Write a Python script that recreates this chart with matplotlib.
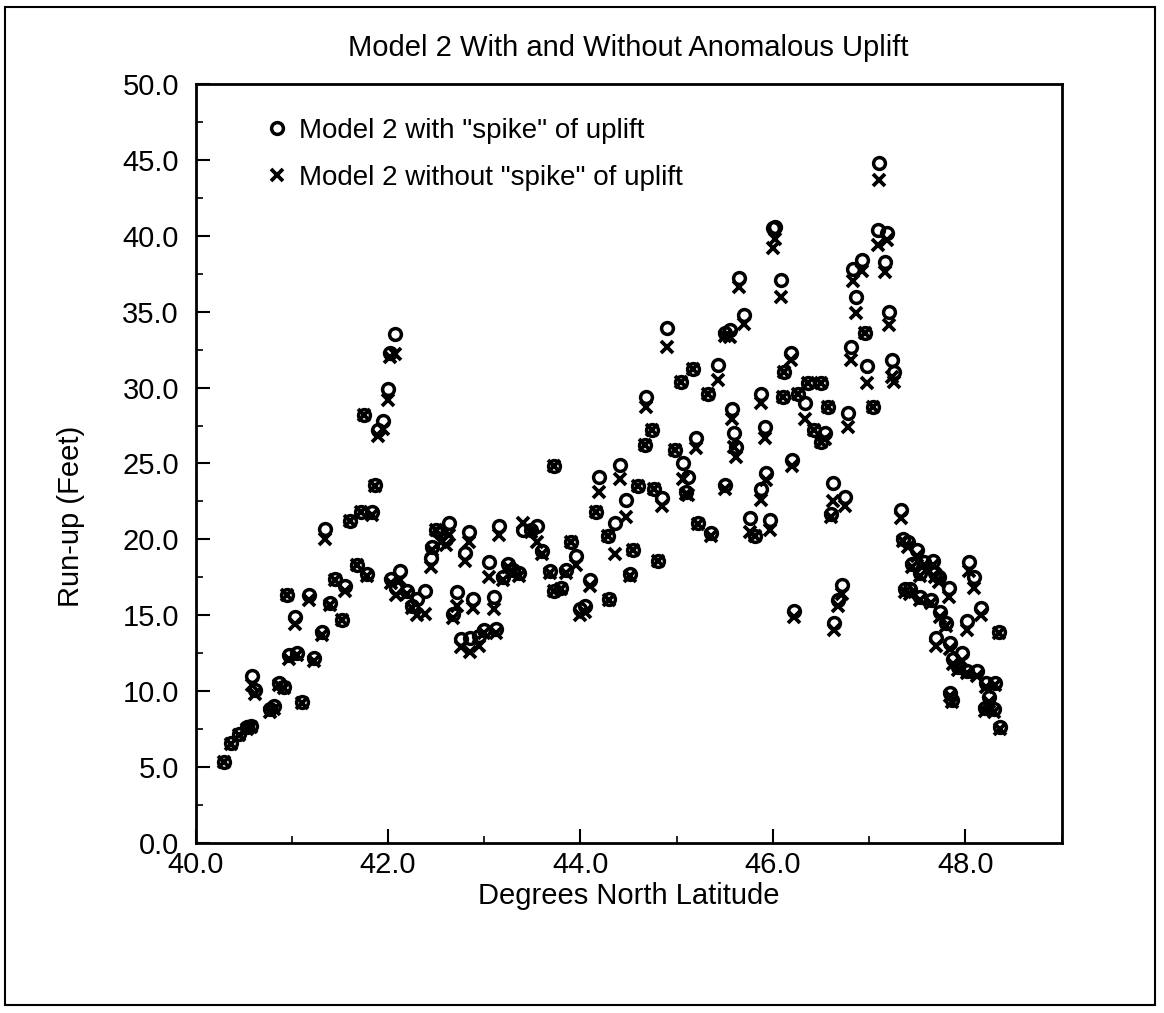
import matplotlib.pyplot as plt
from matplotlib.patches import Rectangle
from matplotlib.ticker import MultipleLocator, FormatStrFormatter

plt.rcParams['font.family'] = ['Liberation Sans', 'DejaVu Sans']

# latitude of each site, run-up with and without the "spike" of uplift
lat = [40.30, 40.37, 40.45, 40.53, 40.58, 40.59, 40.62, 40.77, 40.82, 40.87,
       40.92, 40.97, 41.03, 41.05, 41.11, 41.23, 41.31, 41.52, 40.95, 41.18,
       41.35, 41.45, 41.40, 41.55, 41.60, 41.68, 41.72, 41.75, 41.78, 41.83,
       41.87, 41.90, 41.95, 42.00, 42.02, 42.07, 42.03, 42.08, 42.12,
       42.20, 42.25, 42.30, 42.38, 42.45, 42.50, 42.46, 42.55, 42.63, 42.60,
       42.68, 42.72, 42.76, 42.80, 42.84, 42.85, 42.88, 42.95, 43.00, 43.05,
       43.10, 43.15, 43.12, 43.20, 43.25, 43.30, 43.36, 43.40, 43.49, 43.55,
       43.60, 43.68, 43.72, 43.73, 43.85, 43.90, 43.95, 43.80, 44.00, 44.05,
       44.10, 44.16, 44.19, 44.29, 44.30, 44.36, 44.41, 44.47, 44.52, 44.55,
       44.60, 44.67, 44.68, 44.74, 44.76, 44.81, 44.85,
       44.90, 44.98, 45.04, 45.07, 45.12, 45.10, 45.17, 45.20, 45.22, 45.33,
       45.36, 45.43, 45.50, 45.50, 45.55, 45.57, 45.60, 45.62, 45.65, 45.70,
       45.76, 45.81, 45.88, 45.88, 45.92, 45.93, 45.97, 46.00, 46.02, 46.08,
       46.10, 46.12, 46.19, 46.20, 46.22, 46.26, 46.33, 46.36, 46.43, 46.50,
       46.50, 46.54, 46.57, 46.60, 46.62, 46.64, 46.68, 46.72, 46.75, 46.78,
       46.81, 46.83, 46.86, 46.93, 46.96, 46.98, 47.04, 47.09, 47.10, 47.16,
       47.19, 47.21, 47.24, 47.26,
       47.33, 47.35, 47.40, 47.45, 47.50, 47.53, 47.57, 47.66, 47.68, 47.73,
       47.37, 47.43, 47.53, 47.64, 47.83, 48.04, 48.09, 47.74, 47.80, 48.16,
       48.02, 48.35, 47.69, 47.84, 47.97, 47.87, 47.92, 48.02, 48.12, 47.84,
       47.86, 48.21, 48.31, 48.25, 48.20, 48.30, 48.36]

with_spike = [5.3, 6.6, 7.2, 7.6, 7.7, 11.0, 10.1, 8.8, 9.0, 10.5,
              10.3, 12.4, 14.9, 12.5, 9.3, 12.2, 13.9, 14.7, 16.3, 16.3,
              20.7, 17.4, 15.8, 16.9, 21.2, 18.3, 21.8, 28.2, 17.7, 21.8,
              23.6, 27.2, 27.8, 29.9, 32.3, 33.5, 17.4, 16.8, 17.9,
              16.6, 15.6, 16.1, 16.6, 18.8, 20.6, 19.5, 20.4, 21.1, 20.0,
              15.1, 16.5, 13.4, 19.1, 20.5, 13.5, 16.1, 13.6, 14.0, 18.5,
              16.2, 20.9, 14.1, 17.5, 18.4, 18.0, 17.8, 20.6, 20.6, 20.9,
              19.2, 17.9, 24.8, 16.6, 18.0, 19.8, 18.9, 16.8, 15.4, 15.6,
              17.3, 21.8, 24.1, 20.2, 16.1, 21.1, 24.9, 22.6, 17.7, 19.3,
              23.5, 26.2, 29.4, 27.2, 23.3, 18.6, 22.7,
              33.9, 25.9, 30.4, 25.0, 24.1, 23.1, 31.2, 26.7, 21.1, 29.6,
              20.4, 31.5, 23.6, 33.6, 33.8, 28.6, 27.0, 26.1, 37.2, 34.8,
              21.4, 20.2, 29.6, 23.3, 27.4, 24.4, 21.3, 40.5, 40.6, 37.1,
              29.4, 31.0, 32.3, 25.2, 15.3, 29.6, 29.0, 30.3, 27.2, 30.3,
              26.4, 27.0, 28.7, 21.7, 23.7, 14.5, 16.0, 17.0, 22.8, 28.3,
              32.7, 37.8, 36.0, 38.4, 33.6, 31.4, 28.7, 40.4, 44.8, 38.3,
              40.2, 35.0, 31.8, 31.0,
              21.9, 20.0, 19.8, 18.4, 19.3, 17.8, 18.5, 18.6, 17.8, 17.5,
              16.7, 16.7, 16.2, 16.0, 16.8, 18.5, 17.5, 15.2, 14.5, 15.5,
              14.6, 13.9, 13.5, 13.2, 12.5, 12.1, 11.6, 11.3, 11.3, 9.9,
              9.4, 10.5, 10.5, 9.6, 8.9, 8.8, 7.6]

without_spike = [5.3, 6.5, 7.1, 7.5, 7.6, 10.4, 9.8, 8.6, 8.8, 10.4,
                 10.2, 12.1, 14.4, 12.4, 9.2, 12.0, 13.7, 14.7, 16.3, 16.0,
                 20.0, 17.3, 15.7, 16.6, 21.2, 18.3, 21.8, 28.2, 17.6, 21.6,
                 23.5, 26.8, 27.3, 29.2, 32.0, 32.2, 17.1, 16.3, 17.3,
                 16.4, 15.5, 15.0, 15.1, 18.2, 20.6, 19.3, 19.8, 20.3, 19.6,
                 14.8, 15.6, 12.9, 18.6, 19.8, 12.6, 15.5, 13.0, 13.8, 17.5,
                 15.4, 20.3, 13.8, 17.3, 18.2, 17.8, 17.6, 21.1, 20.5, 19.8,
                 19.0, 17.8, 24.8, 16.6, 17.8, 19.8, 18.3, 16.7, 15.0, 15.2,
                 16.9, 21.8, 23.1, 20.2, 16.0, 19.0, 24.0, 21.5, 17.6, 19.3,
                 23.5, 26.2, 28.7, 27.2, 23.3, 18.6, 22.2,
                 32.7, 25.9, 30.4, 24.0, 22.9, 23.0, 31.2, 26.0, 21.0, 29.6,
                 20.2, 30.5, 23.3, 33.4, 33.3, 27.9, 26.1, 25.4, 36.6, 34.2,
                 20.5, 20.2, 29.0, 22.6, 26.7, 23.9, 20.6, 39.2, 39.8, 36.0,
                 29.4, 31.0, 31.8, 24.8, 14.9, 29.6, 27.9, 30.3, 27.2, 30.3,
                 26.4, 26.6, 28.7, 21.5, 22.5, 14.0, 15.6, 16.4, 22.2, 27.4,
                 31.8, 37.0, 34.9, 37.7, 33.6, 30.3, 28.7, 39.4, 43.7, 37.6,
                 39.7, 34.1, 30.7, 30.4,
                 21.4, 19.9, 19.5, 18.2, 18.9, 17.6, 18.3, 18.3, 17.5, 17.2,
                 16.5, 16.4, 16.0, 15.8, 16.2, 17.9, 16.8, 14.9, 14.3, 15.0,
                 14.0, 13.8, 13.0, 12.8, 12.0, 11.8, 11.4, 11.2, 11.0, 9.7,
                 9.3, 10.3, 10.4, 9.3, 8.7, 8.6, 7.5]

fig = plt.figure(figsize=(11.64, 10.13), dpi=100)

# scanned page border
fig.patches.append(Rectangle((5 / 1164, 8 / 1013), 1150 / 1164, 998 / 1013,
                             transform=fig.transFigure, fill=False,
                             edgecolor='black', linewidth=1.5))

ax = fig.add_axes([0.168, 0.168, 0.744, 0.749])

ax.plot(lat, with_spike, linestyle='none', marker='o', markersize=8.5,
        markerfacecolor='none', markeredgecolor='black', markeredgewidth=2.5,
        label='Model 2 with "spike" of uplift')
ax.plot(lat, without_spike, linestyle='none', marker='x', markersize=8.5,
        markeredgecolor='black', markeredgewidth=2.7,
        label='Model 2 without "spike" of uplift')

ax.set_xlim(40, 49)
ax.set_ylim(0, 50)
ax.xaxis.set_major_locator(MultipleLocator(2))
ax.xaxis.set_minor_locator(MultipleLocator(1))
ax.yaxis.set_major_locator(MultipleLocator(5))
ax.yaxis.set_minor_locator(MultipleLocator(2.5))
ax.xaxis.set_major_formatter(FormatStrFormatter('%.1f'))
ax.yaxis.set_major_formatter(FormatStrFormatter('%.1f'))
ax.tick_params(which='major', direction='in', length=10, width=1.5,
               labelsize=21, top=False, right=False)
ax.tick_params(axis='y', which='major', pad=12)
ax.tick_params(axis='x', which='major', pad=6)
ax.tick_params(which='minor', direction='in', length=5, width=1.2,
               top=False, right=False)
for s in ax.spines.values():
    s.set_linewidth(2)

ax.set_title('Model 2 With and Without Anomalous Uplift', fontsize=21, pad=20)
ax.set_xlabel('Degrees North Latitude', fontsize=21, labelpad=2)
ax.set_ylabel('Run-up (Feet)', fontsize=21)
ax.yaxis.set_label_coords(-0.128, 0.43)

ax.legend(loc='upper left', bbox_to_anchor=(0.068, 0.97), frameon=False,
          fontsize=20, handletextpad=0.4, handlelength=0.8,
          borderaxespad=0.0, labelspacing=0.75)

fig.savefig('out.png', dpi=100)
